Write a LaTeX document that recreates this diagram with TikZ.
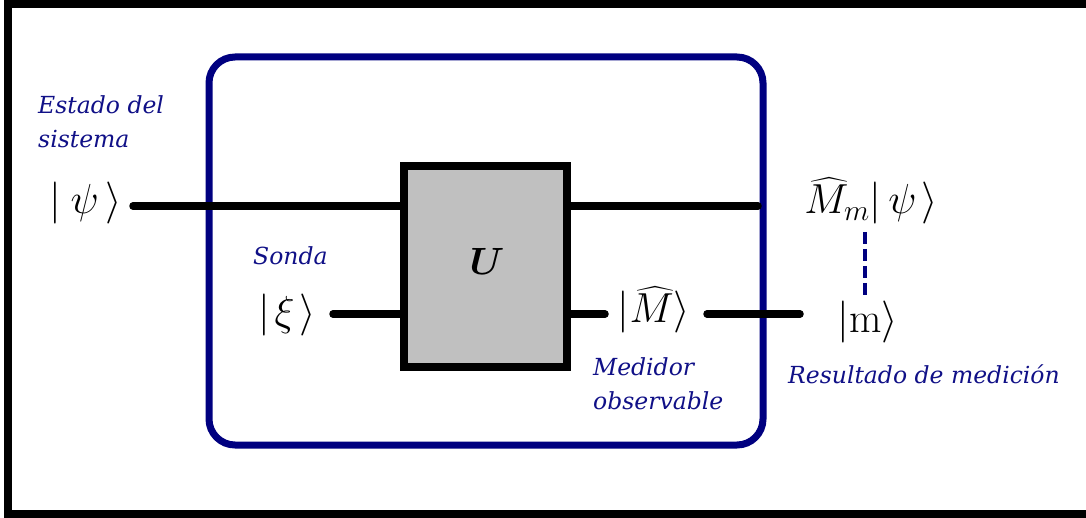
\RequirePackage{fix-cm}
\documentclass[tikz,border=0pt]{standalone}
\usepackage{amsmath}
\usepackage{fontspec}
\usetikzlibrary{backgrounds}
\newfontfamily\labelfont{DejaVu Serif}
\definecolor{framenavy}{RGB}{0,0,128}
\definecolor{labelnavy}{RGB}{16,16,135}
\definecolor{boxgray}{RGB}{192,192,192}
\newcommand{\bigsize}{\fontsize{42}{44}\selectfont}
\newcommand{\tagsize}{\fontsize{23.5}{34}\selectfont}
\tikzset{
  wire/.style={line width=7.5pt, line cap=round},
  tag/.style={text=labelnavy, font=\labelfont\itshape\tagsize,
              align=left, inner sep=0pt},
  ket/.style={font=\bigsize, inner sep=0pt},
  gate/.style={draw=black, fill=boxgray, line width=8pt, inner sep=0pt,
               minimum width=163pt, minimum height=201pt},
  link/.style={draw=framenavy, line width=4pt, dash pattern=on 12pt off 5pt}
}
\begin{document}
\begin{tikzpicture}[x=1pt, y=-1pt]
\useasboundingbox (0,0) rectangle (1086,518);

% unitary gate
\node[gate] (U) at (485.5,266.5) {};
\node[font=\fontsize{38}{40}\selectfont, inner sep=0pt, anchor=base] (Ulabel) at (487,275) {$\boldsymbol{U}$};

% wire end points
\coordinate (psiEnd)  at (133,206);
\coordinate (outTop)  at (758,206);
\coordinate (xiEnd)   at (333,314);
\coordinate (mhatIn)  at (605,314);
\coordinate (mhatOut) at (707,314);
\coordinate (mEnd)    at (800,314);
\coordinate (dashTop) at (865,232);
\coordinate (dashBot) at (865,298);

\begin{scope}[on background layer]
  \fill[white] (0,0) rectangle (1086,518);
  % outer frame (open on the right)
  \draw[line width=8pt, line join=miter] (1090,4.5) -- (8,4.5) -- (8,514) -- (1090,514);
  % rounded measurement enclosure
  \draw[framenavy, line width=7pt, rounded corners=26pt] (209,57) rectangle (763,445);
  % wires
  \draw[wire] (psiEnd) -- (psiEnd -| U.west);
  \draw[wire] (outTop -| U.east) -- (outTop);
  \draw[wire] (xiEnd) -- (xiEnd -| U.west);
  \draw[wire] (mhatIn -| U.east) -- (mhatIn);
  \draw[wire] (mhatOut) -- (mEnd);
\end{scope}

% dashed correlation link
\draw[link] (dashTop) -- (dashBot);

% states
\node[ket, anchor=base] (psi) at (86,214) {$|\mkern4mu\psi\mkern3mu\rangle$};
\node[ket, anchor=base] (xi)  at (287,326) {$|\mkern2mu\xi\mkern2mu\rangle$};
\node[ket, anchor=base] (Mm)  at (871,214) {$\widehat{M}_m|\mkern3mu\psi\mkern2mu\rangle$};
\node[ket, anchor=base] (Mhat) at (654,323) {$|\widehat{M}\rangle$};
\node[ket, anchor=base] (m)   at (868,333) {$|\mathrm{m}\rangle$};

% captions
\node[tag, anchor=north west] (estado) at (38,95) {Estado del\\sistema};
\node[tag, anchor=base west] (sonda) at (253,265) {Sonda};
\node[tag, anchor=north west] (medidor) at (593,357) {Medidor\\observable};
\node[tag, anchor=base west] (resultado) at (788,383) {Resultado de medición};
\end{tikzpicture}
\end{document}
